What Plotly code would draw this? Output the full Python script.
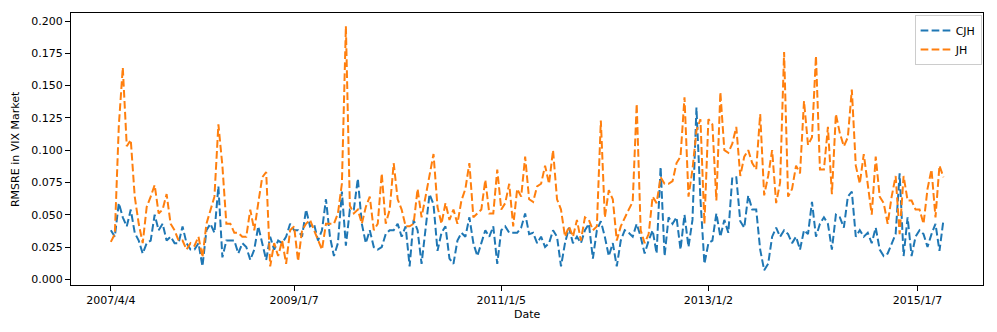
import pandas as pd
import plotly.graph_objects as go

# bi-weekly sampling dates (x categories)
dates = pd.date_range("2007-04-04", periods=210, freq="14D")

cjh = [0.038, 0.033, 0.059, 0.048, 0.041, 0.054, 0.036, 0.030, 0.020, 0.028,
       0.030, 0.050, 0.038, 0.043, 0.030, 0.033, 0.028, 0.028, 0.041, 0.028,
       0.023, 0.023, 0.028, 0.010, 0.038, 0.043, 0.036, 0.072, 0.017, 0.030,
       0.030, 0.030, 0.020, 0.028, 0.025, 0.015, 0.023, 0.041, 0.028, 0.015,
       0.033, 0.023, 0.030, 0.028, 0.033, 0.043, 0.038, 0.038, 0.033, 0.054,
       0.041, 0.043, 0.030, 0.038, 0.062, 0.033, 0.018, 0.028, 0.068, 0.026,
       0.054, 0.054, 0.078, 0.043, 0.028, 0.038, 0.025, 0.023, 0.025, 0.035,
       0.038, 0.038, 0.043, 0.033, 0.041, 0.010, 0.046, 0.038, 0.012, 0.038,
       0.066, 0.058, 0.022, 0.036, 0.041, 0.016, 0.012, 0.030, 0.036, 0.033,
       0.048, 0.028, 0.018, 0.028, 0.038, 0.033, 0.041, 0.012, 0.038, 0.041,
       0.036, 0.036, 0.036, 0.040, 0.051, 0.035, 0.036, 0.028, 0.033, 0.025,
       0.028, 0.038, 0.033, 0.010, 0.028, 0.040, 0.028, 0.033, 0.028, 0.038,
       0.043, 0.016, 0.038, 0.045, 0.033, 0.018, 0.028, 0.010, 0.030, 0.038,
       0.036, 0.033, 0.043, 0.033, 0.020, 0.030, 0.038, 0.020, 0.087, 0.018,
       0.048, 0.043, 0.048, 0.023, 0.050, 0.025, 0.046, 0.133, 0.062, 0.012,
       0.028, 0.030, 0.051, 0.033, 0.046, 0.036, 0.079, 0.079, 0.045, 0.040,
       0.065, 0.054, 0.054, 0.023, 0.007, 0.012, 0.033, 0.040, 0.033, 0.038,
       0.035, 0.028, 0.033, 0.023, 0.038, 0.035, 0.060, 0.033, 0.043, 0.048,
       0.043, 0.023, 0.050, 0.048, 0.040, 0.064, 0.068, 0.033, 0.038, 0.033,
       0.036, 0.028, 0.040, 0.023, 0.018, 0.020, 0.028, 0.035, 0.082, 0.018,
       0.048, 0.018, 0.033, 0.038, 0.035, 0.025, 0.035, 0.043, 0.022, 0.046]

jh = [0.029, 0.035, 0.119, 0.164, 0.103, 0.108, 0.064, 0.043, 0.028, 0.056,
      0.064, 0.073, 0.051, 0.054, 0.066, 0.043, 0.038, 0.030, 0.030, 0.023,
      0.028, 0.026, 0.033, 0.017, 0.043, 0.054, 0.064, 0.120, 0.088, 0.043,
      0.043, 0.036, 0.036, 0.033, 0.033, 0.054, 0.038, 0.059, 0.079, 0.083,
      0.010, 0.028, 0.018, 0.030, 0.012, 0.038, 0.041, 0.014, 0.038, 0.043,
      0.046, 0.038, 0.030, 0.023, 0.043, 0.043, 0.043, 0.051, 0.074, 0.196,
      0.057, 0.051, 0.054, 0.043, 0.056, 0.064, 0.038, 0.043, 0.082, 0.043,
      0.054, 0.090, 0.062, 0.054, 0.041, 0.041, 0.043, 0.070, 0.048, 0.064,
      0.082, 0.097, 0.056, 0.043, 0.059, 0.046, 0.054, 0.043, 0.061, 0.070,
      0.090, 0.048, 0.051, 0.054, 0.077, 0.051, 0.051, 0.085, 0.054, 0.059,
      0.074, 0.041, 0.070, 0.064, 0.095, 0.062, 0.060, 0.072, 0.074, 0.088,
      0.074, 0.100, 0.062, 0.054, 0.033, 0.041, 0.033, 0.046, 0.030, 0.048,
      0.046, 0.038, 0.041, 0.123, 0.048, 0.069, 0.062, 0.030, 0.041, 0.048,
      0.054, 0.060, 0.136, 0.038, 0.028, 0.035, 0.064, 0.059, 0.079, 0.074,
      0.074, 0.076, 0.090, 0.095, 0.141, 0.064, 0.085, 0.115, 0.124, 0.043,
      0.124, 0.120, 0.061, 0.145, 0.100, 0.098, 0.105, 0.118, 0.080, 0.095,
      0.100, 0.090, 0.085, 0.128, 0.065, 0.080, 0.100, 0.059, 0.075, 0.176,
      0.064, 0.070, 0.088, 0.082, 0.138, 0.104, 0.110, 0.173, 0.085, 0.085,
      0.118, 0.066, 0.128, 0.113, 0.103, 0.110, 0.147, 0.088, 0.074, 0.097,
      0.072, 0.050, 0.095, 0.064, 0.059, 0.043, 0.064, 0.080, 0.035, 0.080,
      0.061, 0.061, 0.054, 0.054, 0.043, 0.070, 0.085, 0.048, 0.088, 0.079]

tick_dates = ["2007-04-04", "2009-01-07", "2011-01-05", "2013-01-02", "2015-01-07"]
tick_text = ["2007/4/4", "2009/1/7", "2011/1/5", "2013/1/2", "2015/1/7"]
y_ticks = [0.0, 0.025, 0.05, 0.075, 0.1, 0.125, 0.15, 0.175, 0.2]

FONT = "DejaVu Sans"
dash = "7.7px,3.3px"

fig = go.Figure()
fig.add_trace(go.Scatter(x=dates, y=cjh, mode="lines", name="CJH",
                         line=dict(color="#1f77b4", width=2.0, dash=dash)))
fig.add_trace(go.Scatter(x=dates, y=jh, mode="lines", name="JH",
                         line=dict(color="#ff7f0e", width=2.0, dash=dash)))

axis_common = dict(showline=True, linecolor="black", linewidth=1, mirror=True,
                   ticks="outside", ticklen=5, tickwidth=1, tickcolor="black",
                   showgrid=False, zeroline=False, automargin=False,
                   tickfont=dict(family=FONT, size=11, color="black"))

# the page body has an 8px default margin, so the figure is 8px smaller
fig.update_layout(
    width=989, height=324,
    margin=dict(l=63, r=14, t=5, b=47),
    paper_bgcolor="white", plot_bgcolor="white",
    font=dict(family=FONT, size=11, color="black"),
    xaxis=dict(type="date", range=["2006-11-15", "2015-08-25"],
               tickvals=tick_dates, ticktext=tick_text, **axis_common),
    yaxis=dict(range=[-0.0044, 0.2062], tickvals=y_ticks, tickformat=".3f",
               **axis_common),
    legend=dict(x=0.9985, y=0.993, xanchor="right", yanchor="top",
                bgcolor="rgba(255,255,255,0.8)", bordercolor="#cccccc", borderwidth=1,
                font=dict(family=FONT, size=11), itemwidth=30,
                tracegroupgap=0),
    showlegend=True,
    annotations=[
        dict(text="Date", xref="paper", yref="paper", x=0.5, y=-0.077,
             xanchor="center", yanchor="top", showarrow=False,
             font=dict(family=FONT, size=11, color="black")),
        dict(text="RMSRE in VIX Market", xref="paper", yref="paper",
             x=-0.052, y=0.5, xanchor="right", yanchor="middle", textangle=-90,
             showarrow=False, font=dict(family=FONT, size=11, color="black")),
    ],
)

fig.write_html("out.html")
